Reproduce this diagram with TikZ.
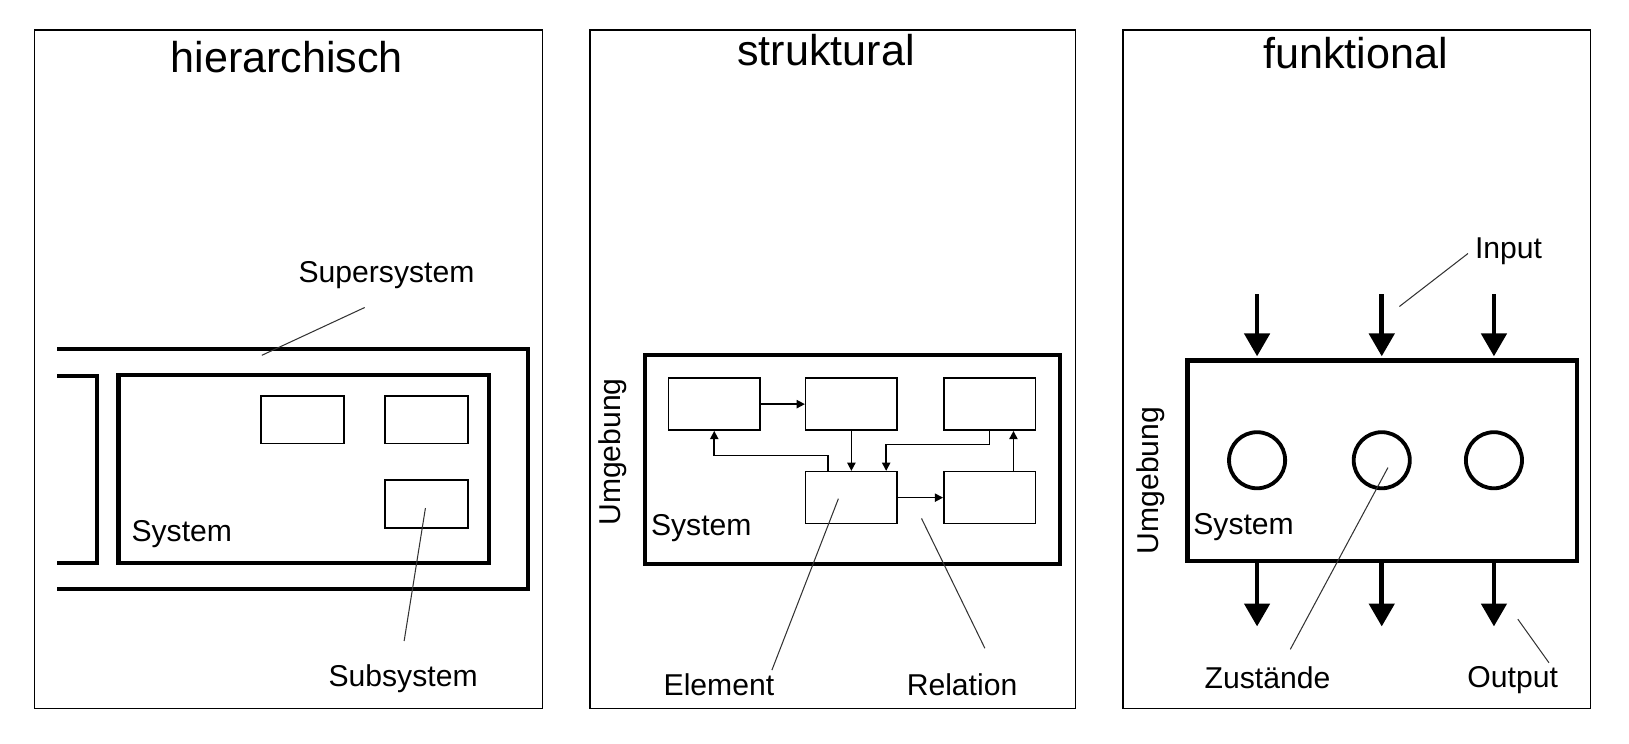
\documentclass[tikz,border=0pt]{standalone}
\usepackage{fontspec}
\setmainfont{Liberation Sans}
\usetikzlibrary{arrows.meta, positioning}

\tikzset{
  panel/.style={draw=black, line width=1.5pt},
  sysbox/.style={draw=black, line width=4pt, inner sep=0pt},
  elembox/.style={draw=black, line width=1.5pt, inner sep=0pt, minimum width=88pt, minimum height=50pt},
  subbox/.style={draw=black, line width=1.5pt, inner sep=0pt, minimum width=80pt, minimum height=46pt},
  state/.style={circle, draw=black, line width=3.7pt, inner sep=0pt, minimum size=54pt},
  title/.style={inner sep=0pt, font=\fontsize{41.5}{48}\selectfont},
  lbl/.style={inner sep=0pt, font=\fontsize{29}{34}\selectfont},
  leader/.style={draw=black!80, line width=1pt},
  relarrow/.style={line width=1.5pt, -{Triangle[width=8pt, length=8pt]}},
  ioarrow/.style={line width=4.5pt, -{Triangle[width=24pt, length=22pt]}}
}

\begin{document}
\begin{tikzpicture}[x=1pt, y=-1pt]
    \useasboundingbox (0,0) rectangle (1568,716);

    % Panel frames
    \draw[panel] (33,29) rectangle (522,682);
    \draw[panel] (568,29) rectangle (1035,682);
    \draw[panel] (1081,29) rectangle (1531,682);

    \node[title] (thier) at (276,55) {hierarchisch};
    \node[title] (tstruk) at (795,48) {struktural};
    \node[title] (tfunk) at (1305,51) {funktional};

    % hierarchisch: supersystem, system, subsystems
    \draw[line width=4pt] (55,336) -| (508,567) -- (55,567);
    \draw[line width=4pt] (55,362) -| (93,542) -- (55,542);
    \node[sysbox, minimum width=357pt, minimum height=181pt] (hsys) at (292.5,451.5) {};
    \node[subbox] (hsub1) at (291,404) {};
    \node[subbox] (hsub2) at (410.5,404) {};
    \node[subbox] (hsub3) at (410.5,485) {};

    \node[lbl] (lsuper) at (372,265) {Supersystem};
    \node[lbl] (lhsys) at (175,514) {System};
    \node[lbl] (lsub) at (388,653) {Subsystem};
    \coordinate (super1) at (351,296);
    \coordinate (super2) at (252,342);
    \coordinate (sub1) at (409.5,489);
    \coordinate (sub2) at (389,617);
    \draw[leader] (super1) -- (super2);
    \draw[leader] (sub1) -- (sub2);

    % struktural: elements and relations
    \node[sysbox, minimum width=399pt, minimum height=201pt] (ssys) at (820.5,442.5) {};
    \node[elembox] (ea) at (687.5,389) {};
    \node[elembox] (eb) at (819.5,389) {};
    \node[elembox] (ec) at (952.5,389) {};
    \node[elembox] (ed) at (819.5,479) {};
    \node[elembox] (ee) at (952.5,479) {};

    \draw[relarrow] (ea.east) -- (eb.west);
    \draw[relarrow] (eb.south) -- (ed.north);
    \draw[relarrow] (ec.south) -- ++(0,13) -| ([xshift=33.5pt]ed.north);
    \draw[relarrow] ([xshift=-22.5pt]ed.north) -- ++(0,-15) -| (ea.south);
    \draw[relarrow] (ed.east) -- (ee.west);
    \draw[relarrow] ([xshift=23pt]ee.north) -- ([xshift=23pt]ec.south);

    \node[lbl, rotate=90] (lsumg) at (590,435) {Umgebung};
    \node[lbl] (lssys) at (675,508) {System};
    \node[lbl] (lelem) at (692,659) {Element};
    \node[lbl] (lrel) at (926,659) {Relation};
    \coordinate (elem1) at (807,480);
    \coordinate (elem2) at (743,645);
    \coordinate (rel1) at (887,499);
    \coordinate (rel2) at (948,624);
    \draw[leader] (elem1) -- (elem2);
    \draw[leader] (rel1) -- (rel2);

    % funktional: input, states, output
    \node[sysbox, minimum width=375pt, minimum height=193pt] (fsys) at (1330.5,443.5) {};
    \foreach \i/\x in {1/1210, 2/1330, 3/1438} {
      \node[state] (z\i) at (\x,443) {};
      \coordinate (in\i) at (\x,283);
      \coordinate (out\i) at (\x,603);
      \draw[ioarrow, shorten >=2pt] (in\i) -- (in\i |- fsys.north);
      \draw[ioarrow] (out\i |- fsys.south) -- (out\i);
    }

    \node[lbl] (linput) at (1452,242) {Input};
    \node[lbl, rotate=90] (lfumg) at (1107.5,462.5) {Umgebung};
    \node[lbl] (lfsys) at (1197,507) {System};
    \node[lbl] (lzust) at (1220,652) {Zustände};
    \node[lbl] (loutput) at (1456,655) {Output};
    \coordinate (inp1) at (1413,244);
    \coordinate (inp2) at (1347,295);
    \coordinate (zust1) at (1336,450);
    \coordinate (zust2) at (1242,625);
    \coordinate (outp1) at (1461,596);
    \coordinate (outp2) at (1491,638);
    \draw[leader] (inp1) -- (inp2);
    \draw[leader] (zust1) -- (zust2);
    \draw[leader] (outp1) -- (outp2);
\end{tikzpicture}
\end{document}
